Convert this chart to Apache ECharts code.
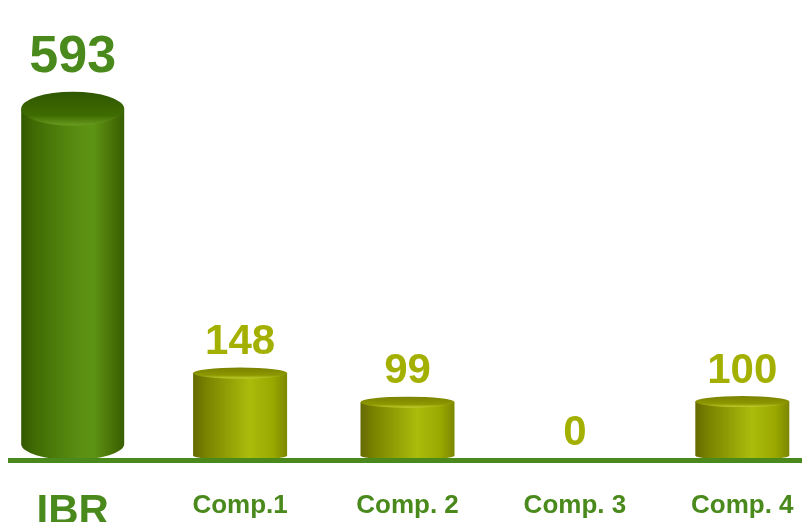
<!DOCTYPE html>
<html>
<head>
<meta charset="utf-8">
<script src="https://cdn.jsdelivr.net/npm/echarts@6/dist/echarts.min.js"></script>
<style>
  html, body { margin: 0; padding: 0; background: #fff; }
  #chart { width: 802px; height: 522px; }
</style>
</head>
<body>
<div id="chart"></div>
<script>
// values
const categories = ['IBR', 'Comp.1', 'Comp. 2', 'Comp. 3', 'Comp. 4'];
const values = [593, 148, 99, 0, 100];

const GREEN = '#4a8a1c';
const OLIVE = '#a3b000';
const FONT = '"Liberation Sans", Arial, sans-serif';

const grad = (x2, y2, stops) => new echarts.graphic.LinearGradient(0, 0, x2, y2,
  stops.map(([offset, color]) => ({ offset, color })));

const bodyFill = {
  main: () => grad(1, 0, [[0, '#335800'], [0.12, '#3f6a04'], [0.55, '#5a8e12'],
    [0.7, '#5e9414'], [0.9, '#466f06'], [1, '#385e00']]),
  other: () => grad(1, 0, [[0, '#666a00'], [0.15, '#7b8400'], [0.6, '#abbc0c'],
    [0.85, '#9aa800'], [1, '#7c8700']])
};
const topFill = {
  main: () => grad(0, 1, [[0, '#2f5600'], [0.7, '#3f6c02'], [1, '#6a9c20']]),
  other: () => grad(0, 1, [[0, '#7a8200'], [0.7, '#8e9800'], [1, '#c2cf30']])
};

// draws one cylinder plus its value label
function renderCylinder(params, api) {
  const i = api.value(0);
  const v = api.value(1);
  const main = i === 0;
  const top = api.coord([i, v]);
  const base = api.coord([i, 0]);
  const cx = top[0];
  const hw = main ? 51.5 : 47;
  const ry = main ? 17 : 5.5;
  const ryB = main ? 16 : 4.5;
  const kind = main ? 'main' : 'other';
  const children = [];
  let textY;

  if (v > 0) {
    const ty = top[1];
    const by = base[1] - 1 - ryB;
    children.push({
      type: 'path',
      shape: {
        pathData: `M${cx - hw} ${ty} L${cx - hw} ${by} A${hw} ${ryB} 0 0 0 ${cx + hw} ${by} L${cx + hw} ${ty} Z`
      },
      style: { fill: bodyFill[kind]() }
    });
    children.push({
      type: 'path',
      shape: {
        pathData: `M${cx - hw} ${ty} A${hw} ${ry} 0 0 0 ${cx + hw} ${ty} A${hw} ${ry} 0 0 0 ${cx - hw} ${ty} Z`
      },
      style: { fill: topFill[kind]() }
    });
    textY = ty - ry - (main ? 34 : 25);
  } else {
    textY = base[1] - 3 - 25;
  }

  children.push({
    type: 'text',
    style: {
      text: String(v),
      x: cx,
      y: textY,
      align: 'center',
      verticalAlign: 'middle',
      fontFamily: FONT,
      fontWeight: 'bold',
      fontSize: main ? 52 : 42,
      fill: main ? GREEN : OLIVE
    }
  });
  return { type: 'group', children };
}

const chart = echarts.init(document.getElementById('chart'), null, { renderer: 'canvas' });

chart.setOption({
  animation: false,
  backgroundColor: '#ffffff',
  grid: {
    left: -11, right: -24, top: 0, bottom: 61,
    containLabel: false,
    outerBoundsMode: 'none'
  },
  xAxis: {
    type: 'category',
    data: categories,
    axisLine: { show: false },
    axisTick: { show: false },
    axisLabel: {
      interval: 0,
      margin: 33,
      formatter: (val) => (val === 'IBR' ? `{big|${val}}` : `{small|${val}}`),
      rich: {
        big: { fontFamily: FONT, fontWeight: 'bold', fontSize: 42, lineHeight: 36, color: GREEN },
        small: { fontFamily: FONT, fontWeight: 'bold', fontSize: 26, lineHeight: 24, color: GREEN }
      }
    }
  },
  yAxis: {
    type: 'value',
    min: 0,
    max: 776,
    show: false,
    splitLine: { show: false }
  },
  graphic: [{
    type: 'rect',
    z: 100,
    shape: { x: 8, y: 458, width: 794, height: 5 },
    style: { fill: GREEN }
  }],
  series: [{
    type: 'custom',
    renderItem: renderCylinder,
    clip: false,
    data: values.map((v, i) => [i, v])
  }]
});
</script>
</body>
</html>
